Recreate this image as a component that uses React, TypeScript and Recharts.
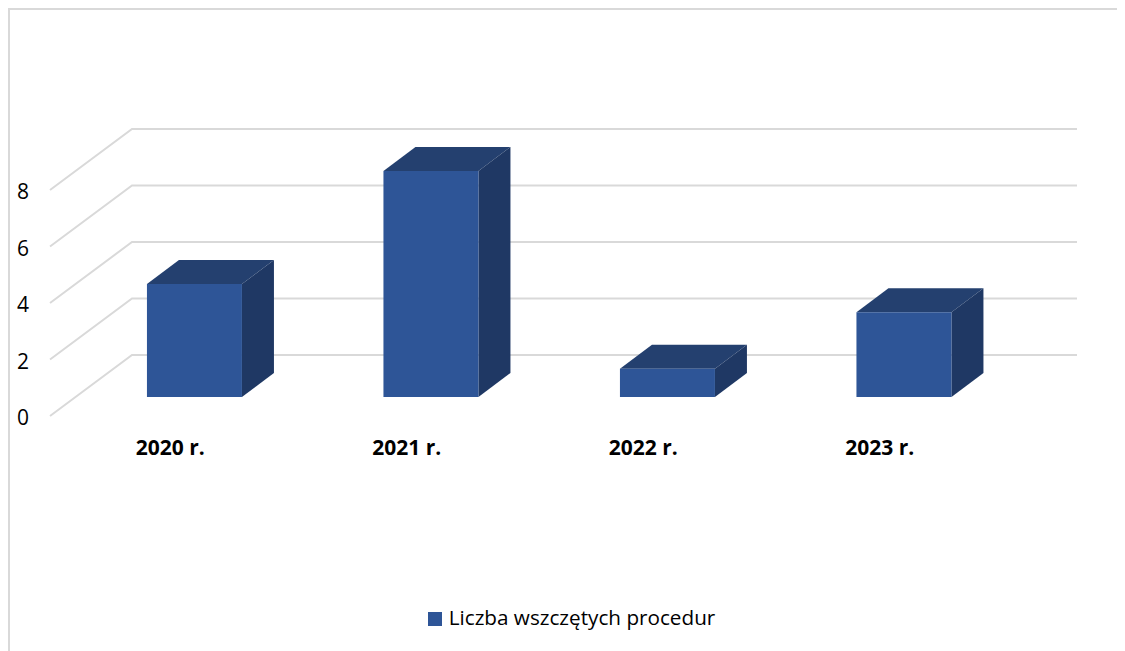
import { Bar, BarChart, CartesianGrid, Legend, XAxis, YAxis } from "recharts";

// 3D look of the original column chart: depth of the walls and of the columns
const WALL_DEPTH = { dx: 80, dy: -61 };
const BAR_DEPTH = { dx: 32, dy: -24 };
const BAR_SHIFT = { dx: 24, dy: -19 };

const FONT = '"Open Sans", sans-serif';
const GRID = "#d9d9d9";

const years = ["2020 r.", "2021 r.", "2022 r.", "2023 r."];
const procedures = [4, 8, 1, 3];
const yTicks = [0, 2, 4, 6, 8];

const data = years.map((year, i) => ({ year, procedures: procedures[i] }));

const WallLine = (props: any) => {
  const { x1, y1, x2, index } = props;
  const points = [
    `${x1 - 2},${y1}`,
    `${x1 + WALL_DEPTH.dx},${y1 + WALL_DEPTH.dy}`,
    `${x2 + WALL_DEPTH.dx - 1},${y1 + WALL_DEPTH.dy}`,
  ].join(" ");
  return <polyline key={index} points={points} fill="none" stroke={GRID} strokeWidth={2} />;
};

const Box = (props: any) => {
  const { width: w, height: h } = props;
  const x = props.x + BAR_SHIFT.dx;
  const y = props.y + BAR_SHIFT.dy;
  const { dx, dy } = BAR_DEPTH;
  return (
    <g>
      <polygon
        points={`${x},${y} ${x + w},${y} ${x + w + dx},${y + dy} ${x + dx},${y + dy}`}
        fill="#24406f"
      />
      <polygon
        points={`${x + w},${y} ${x + w + dx},${y + dy} ${x + w + dx},${y + h + dy} ${x + w},${y + h}`}
        fill="#1f3864"
      />
      <rect x={x} y={y} width={w} height={h} fill="#2e5597" />
    </g>
  );
};

export default function App() {
  return (
    <div
      style={{
        width: 1115,
        height: 641,
        borderTop: `2px solid ${GRID}`,
        borderLeft: `2px solid ${GRID}`,
      }}
    >
      <BarChart
        width={1115}
        height={641}
        data={data}
        barCategoryGap="30%"
        margin={{ top: 180, right: 127, bottom: 205, left: 0 }}
      >
        <CartesianGrid vertical={false} horizontal={WallLine} />
        <XAxis
          dataKey="year"
          axisLine={false}
          tickLine={false}
          tickSize={0}
          tickMargin={24}
          tick={{ fill: "#000", fontSize: 21, fontWeight: 700, fontFamily: FONT }}
        />
        <YAxis
          width={42}
          domain={[0, 8]}
          ticks={yTicks}
          axisLine={false}
          tickLine={false}
          tickSize={0}
          tickMargin={23}
          tick={{ fill: "#000", fontSize: 21, fontFamily: FONT, dy: 2 }}
        />
        <Bar
          dataKey="procedures"
          name="Liczba wszczętych procedur"
          fill="#2e5597"
          shape={Box}
          isAnimationActive={false}
        />
        <Legend
          verticalAlign="middle"
          iconType="square"
          iconSize={14}
          wrapperStyle={{
            top: 593,
            left: 72.5,
            fontFamily: FONT,
            fontSize: 20.7,
            color: "#000",
          }}
          formatter={(value: string) => (
            <span style={{ color: "#000", marginLeft: 3 }}>{value}</span>
          )}
        />
      </BarChart>
    </div>
  );
}
